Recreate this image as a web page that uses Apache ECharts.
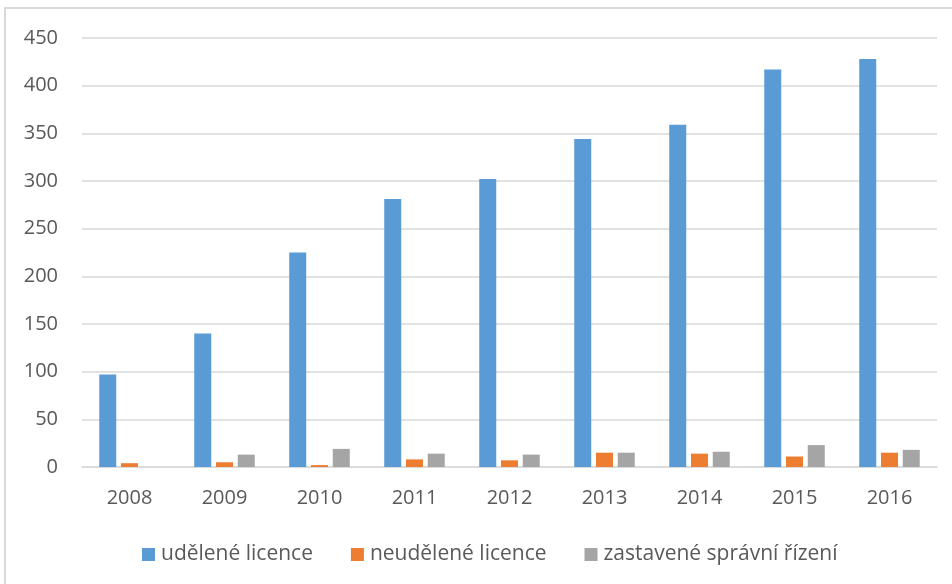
<!DOCTYPE html>
<html><head><meta charset="utf-8">
<script src="https://cdn.jsdelivr.net/npm/echarts@6/dist/echarts.min.js"></script>
<style>html,body{margin:0;padding:0;background:#fff}#c{width:952px;height:584px}</style>
</head><body><div id="c"></div>
<script>
const years = ['2008','2009','2010','2011','2012','2013','2014','2015','2016'];
const udelene = [97, 140, 225, 281, 302, 344, 359, 417, 428];
const neudelene = [4, 5, 2, 8, 7, 15, 14, 11, 15];
const zastavene = [0, 13, 19, 14, 13, 15, 16, 23, 18];
const seriesNames = ['udělené licence', 'neudělené licence', 'zastavené správní řízení'];

const chart = echarts.init(document.getElementById('c'), null, {renderer:'canvas'});
const font = '"Open Sans", "Noto Sans", sans-serif';
const mk = (name, data, color) => ({
  name, type:'bar', data, barWidth:17, barGap:'28%',
  itemStyle:{color}, emphasis:{disabled:true}
});
chart.setOption({
  animation:false,
  textStyle:{fontFamily:font},
  graphic:[{type:'rect', shape:{x:5, y:8, width:1000, height:700}, style:{fill:'none', stroke:'#d9d9d9', lineWidth:2}, silent:true}],
  grid:{left:82, right:15, top:38, bottom:117, containLabel:false},
  legend:{
    top:539, left:137, itemWidth:13, itemHeight:13, itemGap:38, icon:'rect',
    textStyle:{fontFamily:font, fontSize:21, color:'#595959', padding:[0,0,0,1]},
    data:seriesNames
  },
  xAxis:{type:'category', data:years,
    axisLine:{lineStyle:{color:'#d9d9d9', width:1.5}}, axisTick:{show:false},
    axisLabel:{color:'#595959', fontSize:20, fontFamily:font, margin:21}
  },
  yAxis:{type:'value', min:0, max:450, interval:50,
    axisLine:{show:false}, axisTick:{show:false},
    splitLine:{lineStyle:{color:'#d9d9d9', width:1.5}},
    axisLabel:{color:'#595959', fontSize:20, fontFamily:font, margin:24}
  },
  series:[
    mk(seriesNames[0], udelene, '#5b9bd5'),
    mk(seriesNames[1], neudelene, '#ed7d31'),
    mk(seriesNames[2], zastavene, '#a5a5a5')
  ]
});
</script></body></html>
